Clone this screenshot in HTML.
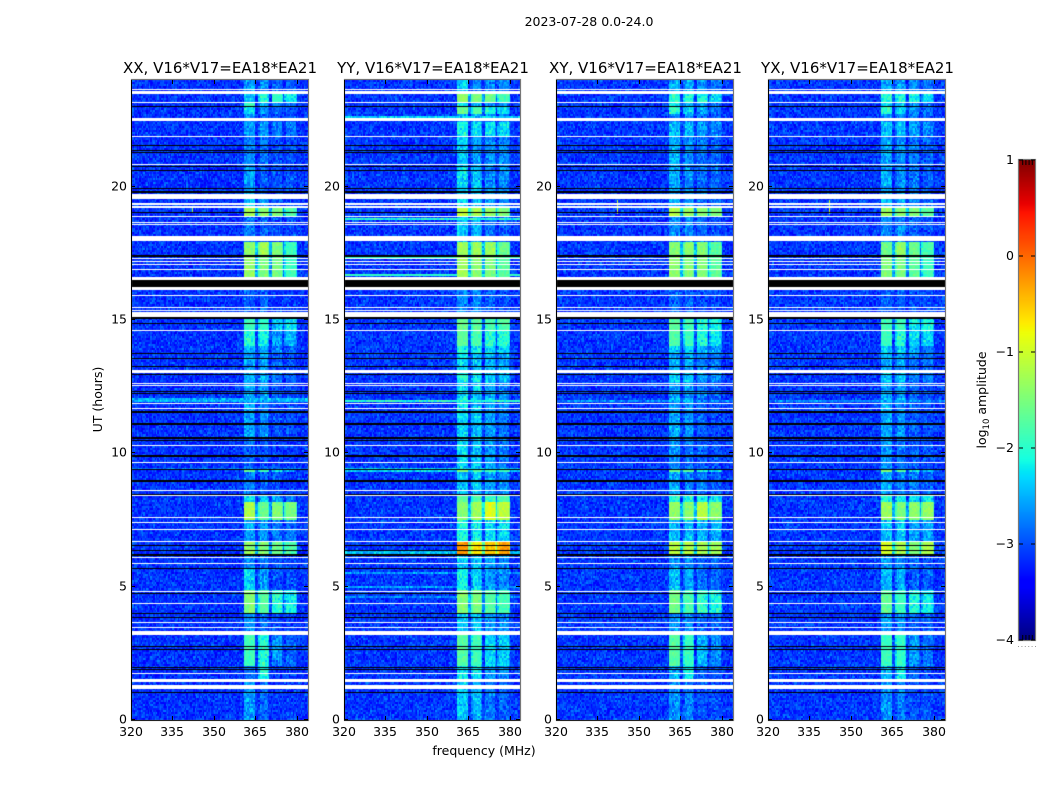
<!DOCTYPE html>
<html lang="en">
<head>
<meta charset="utf-8">
<title>2023-07-28 spectrogram</title>
<style>
  html, body { margin: 0; padding: 0; background: #fff; }
  #figure { position: relative; width: 1050px; height: 800px; overflow: hidden; background: #fff; }
  canvas { position: absolute; display: block; }
  svg { position: absolute; left: 0; top: 0; }
  text { font-family: "DejaVu Sans", "Liberation Sans", sans-serif; fill: #000; }
</style>
</head>
<body>
<div id="figure">
  <canvas id="heat0" width="177" height="640" style="left:131px;top:80px"></canvas>
  <canvas id="heat1" width="176" height="640" style="left:344px;top:80px"></canvas>
  <canvas id="heat2" width="177" height="640" style="left:556px;top:80px"></canvas>
  <canvas id="heat3" width="177" height="640" style="left:768px;top:80px"></canvas>
  <canvas id="cbar" width="16" height="480" style="left:1019px;top:160px"></canvas>
  <svg id="overlay" width="1050" height="800" viewBox="0 0 1050 800">
    <text x="589" y="26" text-anchor="middle" font-size="12.5">2023-07-28 0.0-24.0</text>
    <text x="220" y="73" text-anchor="middle" font-size="15">XX, V16*V17=EA18*EA21</text>
    <text x="433" y="73" text-anchor="middle" font-size="15">YY, V16*V17=EA18*EA21</text>
    <text x="645.5" y="73" text-anchor="middle" font-size="15">XY, V16*V17=EA18*EA21</text>
    <text x="857.5" y="73" text-anchor="middle" font-size="15">YX, V16*V17=EA18*EA21</text>
    <text transform="translate(102,399.5) rotate(-90)" text-anchor="middle" font-size="12.5">UT (hours)</text>
    <text x="484" y="755" text-anchor="middle" font-size="12.5">frequency (MHz)</text>
    <text transform="translate(986,400) rotate(-90)" text-anchor="middle" font-size="12.5">log<tspan font-size="8.5" dy="3">10</tspan><tspan dy="-3"> amplitude</tspan></text>
  </svg>
</div>
<script>
/* axis extents */
const freqMin = 320;
const freqMax = 384;
const hourMin = 0;
const hourMax = 24;
const colorMin = -4;
const colorMax = 1;
const freqTicks = [320, 335, 350, 365, 380];
const hourTicks = [0, 5, 10, 15, 20];
const colorTicks = [1, 0, -1, -2, -3, -4];
const panelNames = ['xx', 'yy', 'xy', 'yx'];

/* frequency ranges of the four bright sub-bands (MHz) */
const subBands = [[360.8, 365.2], [365.9, 370.1], [370.8, 375.1], [375.7, 380]];

/* time segment edges (hours) */
const segmentEdges = [0, 1.5, 2.06, 3.19, 4.0, 4.88, 5.7, 6.15, 6.71, 7.5, 8.18, 8.44, 9.3, 9.41, 10.61, 11.89, 12.08, 12.64, 13.05, 13.76, 14.06, 14.63, 15.08, 16.13, 16.61, 17.4, 17.96, 18.9, 19.24, 19.54, 20.81, 21.9, 22.46, 22.76, 23.03, 23.18, 23.51, 24];

/* log10 amplitude in the four sub-bands, one row per time segment */
const bandsXX = [
[-2.6,-2.85,-3.1,-3.1],[-2.8,-2.15,-3.1,-3.1],[-1.85,-2.0,-2.7,-2.9],[-2.7,-2.8,-3.0,-3.1],[-1.45,-1.7,-2.0,-2.2],[-2.4,-2.6,-3.0,-3.0],
[-2.7,-2.8,-3.0,-3.0],[-1.35,-1.45,-1.6,-1.8],[-2.6,-2.6,-2.8,-2.8],[-1.2,-1.6,-1.45,-1.55],[-2.3,-2.4,-2.6,-2.8],[-2.8,-2.9,-3.0,-3.1],
[-1.7,-1.8,-2.3,-2.5],[-2.9,-3.0,-3.1,-3.1],[-2.6,-2.7,-3.0,-3.0],[-2.5,-2.5,-2.9,-3.0],[-2.6,-2.6,-2.9,-3.0],[-2.5,-2.5,-2.8,-2.9],
[-2.6,-2.6,-2.9,-3.0],[-2.5,-2.5,-2.7,-2.9],[-2.0,-2.1,-2.6,-2.5],[-1.9,-1.95,-2.4,-2.2],[-2.9,-2.9,-3.1,-3.1],[-2.9,-2.9,-3.1,-3.1],
[-1.35,-1.5,-1.55,-1.9],[-1.4,-1.25,-1.5,-1.9],[-2.8,-2.9,-3.0,-3.0],[-1.3,-1.4,-1.5,-1.8],[-2.4,-2.6,-2.9,-3.0],[-2.6,-2.9,-3.0,-3.0],
[-2.7,-2.8,-3.0,-3.0],[-2.6,-2.6,-2.8,-2.8],[-2.7,-2.9,-3.0,-3.0],[-2.3,-2.6,-2.9,-3.0],[-1.9,-2.5,-2.8,-2.9],[-2.4,-2.05,-1.95,-2.15],[-2.6,-2.7,-2.9,-2.9]];
const bandsYY = [
[-2.4,-2.5,-2.8,-2.9],[-2.2,-2.2,-2.6,-2.7],[-1.75,-1.85,-2.3,-2.4],[-2.4,-2.4,-2.6,-2.7],[-1.45,-1.5,-1.75,-1.85],[-2.2,-2.3,-2.6,-2.7],
[-2.4,-2.4,-2.6,-2.7],[-0.25,-0.7,-0.5,-0.3],[-2.1,-2.2,-2.3,-2.3],[-1.45,-1.25,-0.9,-1.1],[-1.7,-1.8,-2.0,-1.8],[-2.4,-2.4,-2.6,-2.7],
[-1.5,-1.7,-1.9,-1.9],[-2.3,-2.4,-2.6,-2.8],[-2.3,-2.4,-2.6,-2.8],[-2.2,-2.3,-2.5,-2.7],[-2.3,-2.4,-2.5,-2.7],[-2.1,-2.2,-2.4,-2.5],
[-2.3,-2.4,-2.5,-2.5],[-2.1,-2.2,-2.3,-2.3],[-1.7,-1.8,-2.0,-2.0],[-1.6,-1.7,-1.85,-1.75],[-2.7,-2.7,-2.9,-3.0],[-2.7,-2.7,-2.9,-3.0],
[-1.3,-1.4,-1.5,-1.7],[-1.3,-1.3,-1.3,-1.6],[-2.4,-2.5,-2.8,-2.9],[-1.1,-1.2,-1.35,-1.5],[-2.3,-2.4,-2.6,-2.7],[-2.3,-2.4,-2.7,-2.7],
[-2.4,-2.6,-2.7,-2.7],[-2.1,-2.2,-2.3,-2.3],[-2.5,-2.6,-2.8,-2.8],[-1.6,-1.75,-2.1,-2.3],[-2.2,-2.5,-2.7,-2.7],[-1.35,-1.45,-1.55,-1.85],[-2.4,-2.7,-2.7,-2.7]];
const bandsXY = [
[-2.65,-2.75,-3.0,-3.0],[-2.5,-2.2,-2.9,-3.0],[-1.75,-1.9,-2.5,-2.7],[-2.65,-2.65,-2.9,-2.9],[-1.55,-1.8,-2.0,-2.1],[-2.45,-2.55,-2.8,-2.9],
[-2.65,-2.65,-2.9,-2.9],[-1.15,-1.15,-1.25,-1.3],[-2.45,-2.45,-2.5,-2.5],[-1.35,-1.4,-1.15,-1.4],[-2.0,-2.1,-2.2,-2.2],[-2.55,-2.7,-2.8,-2.9],
[-1.6,-1.7,-2.1,-2.3],[-2.65,-2.8,-2.9,-3.0],[-2.55,-2.65,-2.9,-3.0],[-2.45,-2.5,-2.8,-2.9],[-2.55,-2.6,-2.8,-2.9],[-2.35,-2.4,-2.6,-2.7],
[-2.55,-2.55,-2.7,-2.8],[-2.35,-2.35,-2.5,-2.6],[-1.75,-1.9,-2.1,-2.2],[-1.7,-1.85,-2.0,-2.1],[-2.9,-2.9,-3.0,-3.0],[-2.9,-2.9,-3.0,-3.0],
[-1.4,-1.45,-1.45,-1.7],[-1.45,-1.4,-1.45,-1.7],[-2.7,-2.7,-2.9,-3.0],[-1.2,-1.3,-1.45,-1.5],[-2.45,-2.55,-2.8,-2.9],[-2.55,-2.65,-2.8,-2.9],
[-2.55,-2.65,-2.8,-2.9],[-2.45,-2.45,-2.6,-2.7],[-2.7,-2.7,-2.8,-2.9],[-2.0,-2.3,-2.6,-2.8],[-2.3,-2.5,-2.7,-2.8],[-2.0,-2.1,-2.1,-2.3],[-2.55,-2.55,-2.7,-2.8]];
const bandsYX = [
[-2.65,-2.75,-3.0,-3.0],[-2.5,-2.2,-2.9,-3.0],[-1.9,-1.95,-2.6,-2.8],[-2.65,-2.65,-2.9,-3.0],[-1.65,-1.9,-2.1,-2.2],[-2.45,-2.55,-2.9,-2.9],
[-2.65,-2.65,-2.9,-3.0],[-0.95,-1.2,-1.5,-1.2],[-2.45,-2.4,-2.6,-2.6],[-1.3,-1.5,-1.4,-1.35],[-2.0,-2.1,-2.3,-2.2],[-2.55,-2.7,-2.8,-2.9],
[-1.5,-1.7,-2.3,-2.4],[-2.65,-2.8,-2.9,-3.0],[-2.55,-2.65,-2.9,-3.0],[-2.45,-2.5,-2.8,-2.9],[-2.55,-2.6,-2.9,-2.9],[-2.35,-2.4,-2.7,-2.8],
[-2.55,-2.55,-2.8,-2.8],[-2.35,-2.35,-2.6,-2.7],[-1.9,-2.0,-2.3,-2.3],[-1.85,-1.9,-2.2,-2.1],[-2.9,-2.9,-3.0,-3.0],[-2.9,-2.9,-3.0,-3.0],
[-1.5,-1.5,-1.7,-1.9],[-1.6,-1.35,-1.6,-1.8],[-2.7,-2.7,-2.9,-3.0],[-1.3,-1.4,-1.5,-1.7],[-2.45,-2.55,-2.8,-2.9],[-2.55,-2.65,-2.8,-2.9],
[-2.55,-2.65,-2.8,-2.9],[-2.45,-2.45,-2.6,-2.7],[-2.7,-2.7,-2.8,-2.9],[-2.0,-2.3,-2.6,-2.8],[-2.3,-2.5,-2.7,-2.8],[-2.0,-2.1,-2.1,-2.3],[-2.55,-2.55,-2.7,-2.8]];
const panelBands = [bandsXX, bandsYY, bandsXY, bandsYX];

/* off-band background level per panel */
const backgroundLevels = [-3.14, -3.12, -3.12, -3.12];

/* broadband interference: [fromHour, toHour, level] per panel */
const burstsXX = [[11.9, 12.07, -2.5], [9.35, 9.43, -2.8]];
const burstsYY = [[6.2, 6.37, -2.45], [9.3, 9.42, -2.35], [11.9, 12.0, -2.0], [18.75, 18.85, -2.0], [22.55, 22.63, -2.4], [17.33, 17.38, -1.95], [16.65, 16.7, -1.95], [5.5, 5.54, -2.6], [5.22, 5.26, -2.6], [4.95, 4.99, -2.6], [4.6, 4.64, -2.7]];
const burstsXY = [[11.9, 12.0, -2.7]];
const burstsYX = [[11.9, 12.0, -2.7]];
const panelBursts = [burstsXX, burstsYY, burstsXY, burstsYX];

/* narrow single-channel spike: [freq, fromHour, toHour, level] per panel */
const spikesXX = [[342.4, 19.05, 19.3, -1.3]];
const spikesYY = [];
const spikesXY = [[342.4, 19.0, 19.5, -1.0]];
const spikesYX = [[342.4, 19.0, 19.5, -1.0]];
const panelSpikes = [spikesXX, spikesYY, spikesXY, spikesYX];

/* rows flagged as missing (white) and fully zero (black), in hours */
const whiteFlags = [[23.63,23.66],[23.48,23.59],[23.14,23.18],[22.46,22.58],[21.86,21.9],[20.81,20.85],[19.54,19.73],[19.31,19.37],[19.2,19.26],[18.86,18.9],[18.64,18.68],[18.56,18.6],[17.96,18.15],[17.29,17.33],[17.18,17.21],[17.06,17.1],[16.88,16.91],[16.5,16.61],[16.13,16.24],[15.9,15.94],[15.45,15.49],[15.32,15.38],[15.11,15.3],[14.59,14.63],[13.03,13.13],[12.6,12.64],[12.51,12.56],[11.85,11.89],[11.66,11.7],[10.28,10.31],[9.64,9.68],[8.59,8.63],[8.4,8.44],[7.56,7.63],[7.39,7.43],[7.13,7.16],[6.68,6.71],[6.09,6.13],[5.85,5.89],[4.8,4.84],[4.35,4.39],[3.64,3.68],[3.45,3.49],[3.19,3.34],[1.73,1.76],[1.44,1.52],[1.16,1.31]];
const blackFlags = [[23.0,23.03],[21.53,21.56],[21.34,21.38],[21.26,21.3],[20.74,20.78],[20.59,20.63],[19.91,19.95],[19.76,19.84],[19.01,19.05],[17.38,17.42],[16.24,16.5],[15.04,15.1],[14.85,14.89],[13.73,13.76],[13.54,13.58],[13.24,13.28],[12.92,12.98],[12.3,12.34],[12.23,12.26],[11.51,11.59],[11.06,11.14],[10.54,10.63],[10.46,10.5],[9.86,9.94],[9.38,9.43],[8.93,9.0],[8.44,8.48],[6.53,6.56],[6.34,6.39],[6.15,6.23],[5.66,5.7],[4.73,4.76],[3.98,4.01],[3.83,3.86],[2.74,2.78],[2.63,2.66],[1.95,1.99],[1.88,1.91],[1.01,1.05]];

/* hand-typed per-pixel speckle table: individual pixels are too fine to read */
const speckleA = [2,-3,1,4,-2,0,-4,3,-1,2,-3,4,0,-2,1,-4,3,2,-1,-3,4,1,-2,0,3,-4,2,-1,1,-3,4,-2,0,3,1,-4,2,-3,-1,4,0,-2,3,1,-3,2,-4,0,4,-1,1,-2,3,-3,2,0,-4,4,-1,1,-2];
const speckleB = [-1,3,-3,0,2,-4,4,1,-2,3,-1,0,-3,2,4,-2,1,-4,3,0,-1,2,-3,4,1,-2,-4,3,0,2,-1,4,-3,1,-2,0,3,-4,2,-1,1,4,-3,0,-2,3,1,-1,2,-4,4,0,-3];

/* jet colormap anchors [position, value] */
const jetRed = [[0,0],[0.35,0],[0.66,1],[0.89,1],[1,0.5]];
const jetGreen = [[0,0],[0.125,0],[0.375,1],[0.64,1],[0.91,0],[1,0]];
const jetBlue = [[0,0.5],[0.11,1],[0.34,1],[0.65,0],[1,0]];

const plotLefts = [131, 344, 556, 768];
const plotFrameWidths = [177, 176, 177, 177];
const plotTop = 80;
const plotWidth = 177;
const plotHeight = 640;
const channelCount = 128;
const rowCount = 320;

function xScale(f) { return (f - freqMin) / (freqMax - freqMin) * plotWidth; }
function yScale(h) { return plotHeight - (h - hourMin) / (hourMax - hourMin) * plotHeight; }
function colorPos(v) { return Math.min(1, Math.max(0, (v - colorMin) / (colorMax - colorMin))); }

function ramp(anchors, t) {
  for (let i = 1; i < anchors.length; i++) {
    if (t <= anchors[i][0]) {
      const a = anchors[i - 1], b = anchors[i];
      return a[1] + (b[1] - a[1]) * (t - a[0]) / (b[0] - a[0]);
    }
  }
  return anchors[anchors.length - 1][1];
}
function jet(v) {
  const t = colorPos(v);
  const r = Math.round(ramp(jetRed, t) * 255);
  const g = Math.round(ramp(jetGreen, t) * 255);
  const b = Math.round(ramp(jetBlue, t) * 255);
  return 'rgb(' + r + ',' + g + ',' + b + ')';
}

function segmentIndex(h) {
  for (let i = 0; i < segmentEdges.length - 1; i++) {
    if (h < segmentEdges[i + 1]) return i;
  }
  return segmentEdges.length - 2;
}

/* picks a speckle table entry for a cell so the texture has no visible lattice */
function speckle(p, r, c) {
  const ia = (((c * 73856093) ^ (r * 19349663) ^ (p * 83492791)) >>> 0) % speckleA.length;
  const ib = (((c * 50331653) ^ (r * 12582917) ^ (p * 6291469)) >>> 0) % speckleB.length;
  return speckleA[ia] + speckleB[ib];
}

function cellValue(p, f, h, r, c) {
  const seg = panelBands[p][segmentIndex(h)];
  let bg = backgroundLevels[p];
  panelBursts[p].forEach(function (b) {
    if (h >= b[0] && h < b[1]) bg = Math.max(bg, b[2]);
  });
  let v = bg;
  const last = subBands.length - 1;
  for (let i = 0; i <= last; i++) {
    if (f >= subBands[i][0] && f < subBands[i][1]) {
      const edge = Math.min(f - subBands[i][0], subBands[i][1] - f);
      v = Math.max(bg, seg[i] - (edge < 0.4 ? 0.3 : 0));
    }
    if (i < last && f >= subBands[i][1] && f < subBands[i + 1][0]) {
      v = Math.max(bg, (seg[i] + seg[i + 1]) / 2 - 1.1);
    }
  }
  v += speckle(p, r, c) * (v > -2 ? 0.025 : 0.05);
  panelSpikes[p].forEach(function (s) {
    if (Math.abs(f - s[0]) < 0.26 && h >= s[1] && h <= s[2]) v = s[3];
  });
  return v;
}

function fillFlag(ctx, band, color) {
  const y0 = Math.round(yScale(band[1]));
  const y1 = Math.max(y0 + 1, Math.round(yScale(band[0])));
  ctx.fillStyle = color;
  ctx.fillRect(0, y0, plotWidth, y1 - y0);
}

function drawPanel(p) {
  const ctx = document.getElementById('heat' + p).getContext('2d');
  const df = (freqMax - freqMin) / channelCount;
  const dh = (hourMax - hourMin) / rowCount;
  for (let r = 0; r < rowCount; r++) {
    const h = hourMin + (r + 0.5) * dh;
    const y0 = Math.round(yScale(hourMin + (r + 1) * dh));
    const y1 = Math.round(yScale(hourMin + r * dh));
    for (let c = 0; c < channelCount; c++) {
      const f = freqMin + (c + 0.5) * df;
      const x0 = Math.round(xScale(freqMin + c * df));
      const x1 = Math.round(xScale(freqMin + (c + 1) * df));
      ctx.fillStyle = jet(cellValue(p, f, h, r, c));
      ctx.fillRect(x0, y0, x1 - x0, y1 - y0);
    }
  }
  whiteFlags.forEach(function (b) { fillFlag(ctx, b, '#fff'); });
  blackFlags.forEach(function (b) { fillFlag(ctx, b, '#000'); });
}

function drawColorbar() {
  const ctx = document.getElementById('cbar').getContext('2d');
  for (let i = 0; i < 480; i++) {
    ctx.fillStyle = jet(colorMax - (i + 0.5) / 480 * (colorMax - colorMin));
    ctx.fillRect(0, i, 16, 1);
  }
}

const svg = document.getElementById('overlay');
const NS = 'http://www.w3.org/2000/svg';

function addLine(x1, y1, x2, y2, name, color) {
  const el = document.createElementNS(NS, 'line');
  el.setAttribute('x1', x1);
  el.setAttribute('y1', y1);
  el.setAttribute('x2', x2);
  el.setAttribute('y2', y2);
  el.setAttribute('stroke', color || '#000');
  el.setAttribute('stroke-width', '1');
  
  
  svg.appendChild(el);
  return el;
}
function addLabel(x, y, str, anchor, name) {
  const el = document.createElementNS(NS, 'text');
  el.setAttribute('x', x);
  el.setAttribute('y', y);
  el.setAttribute('text-anchor', anchor);
  el.setAttribute('font-size', '12.5');
  el.textContent = str;
  
  
  svg.appendChild(el);
  return el;
}
function addFrame(x, y, w, h, name) {
  const el = document.createElementNS(NS, 'rect');
  el.setAttribute('x', x);
  el.setAttribute('y', y);
  el.setAttribute('width', w);
  el.setAttribute('height', h);
  el.setAttribute('fill', 'none');
  el.setAttribute('stroke', '#777');
  el.setAttribute('stroke-width', '1.2');
  
  
  svg.appendChild(el);
}

function drawAxes(p) {
  const left = plotLefts[p];
  const name = panelNames[p];
  const w = plotFrameWidths[p];
  addFrame(left + 0.5, plotTop - 0.5, w, plotHeight + 1, name + '-frame');
  addLine(left + 0.5, plotTop, left + 0.5, plotTop + plotHeight, name + '-left-spine');
  addLine(left, plotTop + plotHeight + 0.5, left + w, plotTop + plotHeight + 0.5, name + '-bottom-spine', '#222');
  freqTicks.forEach(function (f) {
    const x = Math.round(left + xScale(f)) + 0.5;
    addLine(x, plotTop + plotHeight, x, plotTop + plotHeight - 4, name + '-x-tick-bottom');
    addLine(x, plotTop, x, plotTop + 4, name + '-x-tick-top');
    addLabel(x - 0.5, plotTop + plotHeight + 16, String(f), 'middle', name + '-x-tick-label');
  });
  hourTicks.forEach(function (h) {
    const y = Math.round(plotTop + yScale(h)) - 0.5;
    addLine(left, y, left + 4, y, name + '-y-tick-left');
    addLine(left + w, y, left + w - 4, y, name + '-y-tick-right');
    addLabel(left - 4, y + 4, String(h), 'end', name + '-y-tick-label');
  });
}

function drawColorbarAxis() {
  const left = 1019, top = 160, w = 16, h = 480;
  addFrame(left - 0.5, top - 0.5, w + 1, h + 1, 'colorbar-frame');
  colorTicks.forEach(function (v) {
    const y = top + (colorMax - v) / (colorMax - colorMin) * h;
    addLine(left, y, left + 4, y, 'colorbar-tick-left');
    addLine(left + w, y, left + w - 4, y, 'colorbar-tick-right');
    addLabel(left - 5, y + 4, v < 0 ? '\u2212' + Math.abs(v) : String(v), 'end', 'colorbar-tick-label');
  });
  [0.2, 0.4, 0.6, 0.8].forEach(function (t) {
    const x = left + t * w + 0.5;
    addLine(x, top, x, top + 5, 'colorbar-top-tick');
    addLine(x, top + h, x, top + h - 5, 'colorbar-bottom-tick');
  });
  const dots = addLine(left - 1, top + h + 6.5, left + w + 1, top + h + 6.5, 'colorbar-minor-dots', '#999');
  dots.setAttribute('stroke-dasharray', '1 2.4');
}

for (let p = 0; p < panelNames.length; p++) {
  drawPanel(p);
  drawAxes(p);
}
drawColorbar();
drawColorbarAxis();
</script>
</body>
</html>
